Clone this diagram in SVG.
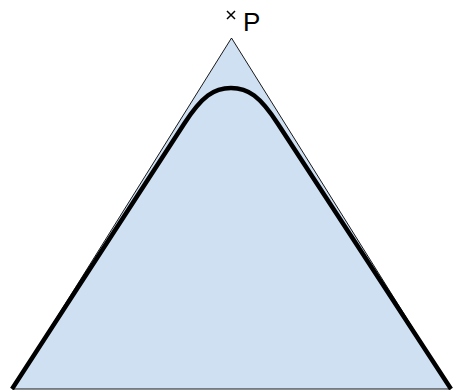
<svg xmlns="http://www.w3.org/2000/svg" width="453" height="390" viewBox="0 0 453 390">
<style>
.tri{fill:#cfe0f2;stroke:#000;stroke-width:0.9}
.curve{fill:none;stroke:#000;stroke-width:4.5;stroke-linejoin:round}
.mark{stroke:#000;stroke-width:1.5;fill:none}
.lbl{font-family:"Liberation Sans",Arial,sans-serif;font-size:26px;fill:#000}
</style>
<g id="triangle">
<polygon class="tri" points="231.5,38 12,389 451,389"/>
</g>
<g id="connectors">
<path class="curve" d="M12,389 L184,124 C202,96 214,88 231,88 C248,88 260,96 278,124 L451,389"/>
</g>
<g id="point-P">
<path class="mark" d="M227,11 L235,19 M235,11 L227,19"/>
<text class="lbl" x="243" y="31">P</text>
</g>
</svg>
